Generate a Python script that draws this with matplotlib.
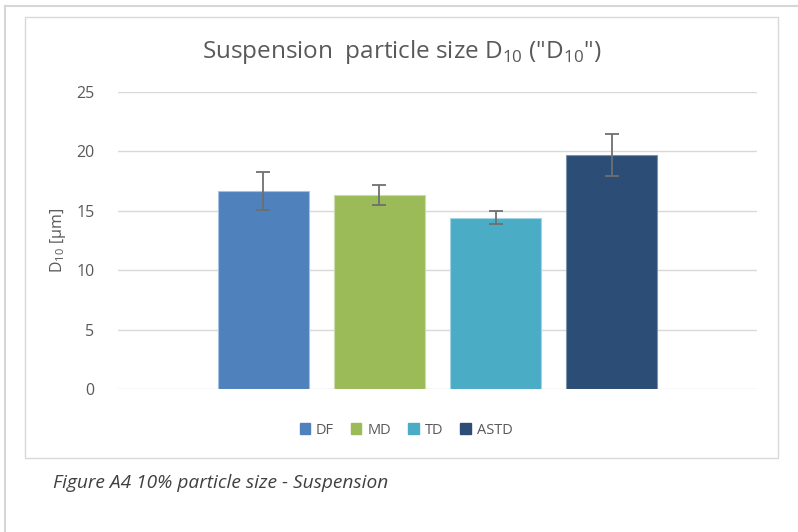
import matplotlib.pyplot as plt
from matplotlib.patches import Rectangle
from matplotlib.lines import Line2D

labels = ["DF", "MD", "TD", "ASTD"]
values = [16.7, 16.3, 14.4, 19.7]
errors = [1.6, 0.85, 0.55, 1.8]
colors = ["#4f81bd", "#9bbb59", "#4bacc6", "#2c4d75"]
edges = ["#a7c0de", "#cddcac", "#a5d5e2", "#7d93ad"]

W, H = 798, 532
plt.rcParams['font.family'] = ['Open Sans', 'DejaVu Sans']
fig = plt.figure(figsize=(W / 100, H / 100), dpi=100)

# page border lines and chart frame
fig.add_artist(Line2D([5 / W, 1], [1 - 6 / H, 1 - 6 / H], color="#d6d6d6", lw=1.5))
fig.add_artist(Line2D([5 / W, 5 / W], [0, 1 - 6 / H], color="#d6d6d6", lw=1.5))
fig.add_artist(Rectangle((25 / W, 1 - 458 / H), 753 / W, 441 / H, fill=False,
                         edgecolor="#d9d9d9", lw=1.0, transform=fig.transFigure))

ax = fig.add_axes([118 / W, 1 - 389 / H, 639 / W, 297 / H])
x = list(range(len(labels)))
for i in x:
    ax.bar(i, values[i], width=0.785, color=colors[i], edgecolor=edges[i],
           linewidth=0.8, label=labels[i], zorder=3)
    ax.errorbar(i, values[i], yerr=errors[i], fmt="none", ecolor="#6f6f6f",
                elinewidth=1.3, capsize=5, capthick=1.3, zorder=4)

ax.set_xlim(-1.254, 4.254)
ax.set_ylim(0, 25)
ax.set_yticks([0, 5, 10, 15, 20, 25])
ax.set_xticks([])
ax.grid(axis="y", color="#d9d9d9", lw=1.0, zorder=0)
for s in ax.spines.values():
    s.set_visible(False)
ax.tick_params(axis="y", length=0, pad=17, labelsize=11.5, labelcolor="#595959")
ax.set_ylabel(r"D$_{\mathregular{10}}$ [µm]", fontsize=11.5, color="#595959", labelpad=6)

fig.text(401.5 / W, 1 - 52 / H, r'Suspension  particle size D$_{\mathregular{10}}$ ("D$_{\mathregular{10}}$")',
         ha="center", va="center", fontsize=17.5, color="#595959")

handles = [Rectangle((0, 0), 1, 1, color=c) for c in colors]
fig.legend(handles, labels, loc="center", bbox_to_anchor=(406 / W, 1 - 430 / H), ncol=4,
           frameon=False, fontsize=10.5, labelcolor="#595959", handlelength=0.7,
           handleheight=0.7, handletextpad=0.4, columnspacing=1.2)

fig.text(53 / W, 1 - 483 / H, "Figure A4 10% particle size - Suspension", ha="left",
         va="center", fontsize=13.8, style="italic", color="#404040")

fig.savefig("out.png", dpi=100)
